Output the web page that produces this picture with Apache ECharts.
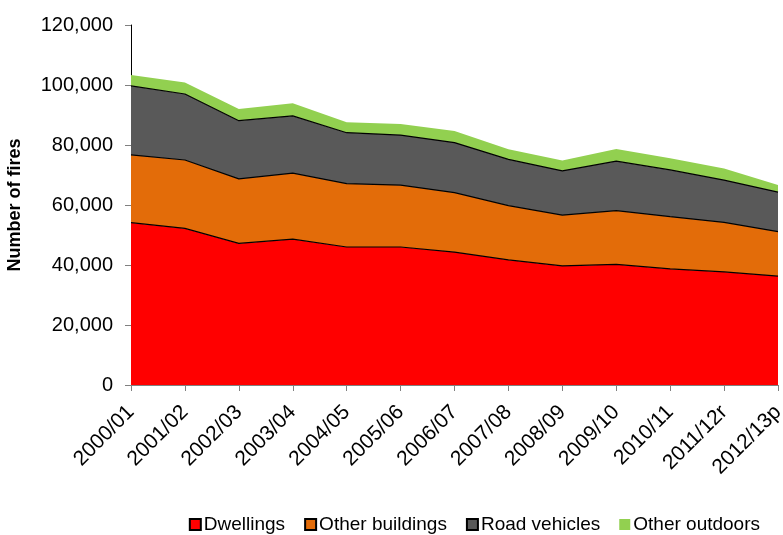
<!DOCTYPE html>
<html>
<head>
<meta charset="utf-8">
<script src="https://cdn.jsdelivr.net/npm/echarts@6/dist/echarts.min.js"></script>
<style>
  html, body { margin: 0; padding: 0; background: #fff; }
  #chart { width: 783px; height: 535px; }
</style>
</head>
<body>
<div id="chart"></div>
<script>
// years
const years = ['2000/01', '2001/02', '2002/03', '2003/04', '2004/05', '2005/06', '2006/07',
  '2007/08', '2008/09', '2009/10', '2010/11', '2011/12r', '2012/13p'];

// number of fires by location
const dwellings = [54100, 52200, 47200, 48600, 46000, 46000, 44300, 41700, 39700, 40200, 38700, 37700, 36300];
const otherBuildings = [22600, 22800, 21500, 22000, 21100, 20600, 19800, 18100, 16900, 17900, 17400, 16500, 14800];
const roadVehicles = [23000, 22000, 19400, 19100, 17000, 16700, 16700, 15400, 14800, 16500, 15600, 14100, 13200];
const otherOutdoors = [3600, 3800, 3900, 4200, 3500, 3700, 3900, 3400, 3400, 4100, 3900, 3900, 2400];

const chart = echarts.init(document.getElementById('chart'), null, { renderer: 'canvas' });

const font = 'Liberation Sans, Arial, sans-serif';

function area(name, data, color, edge) {
  return {
    name: name,
    type: 'line',
    stack: 'fires',
    data: data,
    symbol: 'none',
    lineStyle: { color: edge ? '#000' : color, width: edge ? 1.2 : 0 },
    areaStyle: { color: color, opacity: 1 },
    itemStyle: { color: color, borderColor: '#000', borderWidth: 1 }
  };
}

chart.setOption({
  animation: false,
  textStyle: { fontFamily: font },
  grid: { left: 131, right: 5, top: 25, bottom: 150, outerBoundsMode: 'none' },
  legend: {
    right: 18,
    top: 510,
    itemWidth: 11,
    itemHeight: 11,
    itemGap: 19,
    textStyle: { fontSize: 19, color: '#000', fontFamily: font, padding: [0, 0, 0, -2] },
    data: [
      { name: 'Dwellings', icon: 'rect' },
      { name: 'Other buildings', icon: 'rect' },
      { name: 'Road vehicles', icon: 'rect' },
      { name: 'Other outdoors', icon: 'rect', itemStyle: { borderWidth: 0 } }
    ]
  },
  xAxis: {
    type: 'category',
    data: years,
    boundaryGap: false,
    axisLine: { lineStyle: { color: '#808080', width: 1 } },
    axisTick: { show: true, length: 6, lineStyle: { color: '#808080' } },
    axisLabel: { rotate: 45, fontSize: 21, color: '#000', margin: 24, interval: 0 }
  },
  yAxis: {
    type: 'value',
    min: 0,
    max: 120000,
    interval: 20000,
    name: 'Number of fires',
    nameLocation: 'middle',
    nameGap: 107,
    nameTextStyle: { fontSize: 18, fontWeight: 'bold', color: '#000' },
    axisLine: { show: true, lineStyle: { color: '#000', width: 1 } },
    axisTick: { show: true, length: 6, lineStyle: { color: '#808080' } },
    splitLine: { show: false },
    axisLabel: {
      fontSize: 20,
      color: '#000',
      margin: 18,
      formatter: v => v.toLocaleString('en-GB')
    }
  },
  series: [
    area('Dwellings', dwellings, '#ff0000', true),
    area('Other buildings', otherBuildings, '#e36c09', true),
    area('Road vehicles', roadVehicles, '#595959', true),
    area('Other outdoors', otherOutdoors, '#92d050', false)
  ]
});
</script>
</body>
</html>
